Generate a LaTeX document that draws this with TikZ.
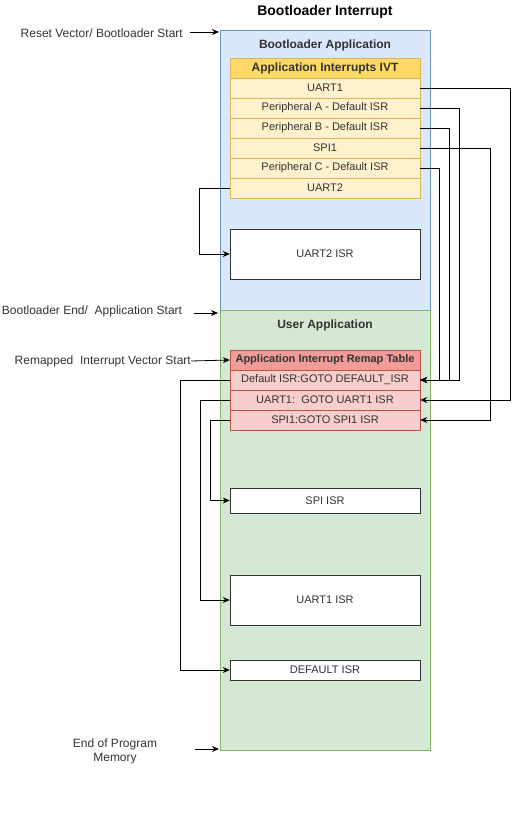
\documentclass[tikz,border=0pt]{standalone}
\usepackage{fontspec}
\setmainfont{Liberation Sans}
\usetikzlibrary{arrows.meta}
\definecolor{bluefill}{HTML}{DAE8FC}
\definecolor{blueline}{HTML}{6C8EBF}
\definecolor{greenfill}{HTML}{D5E8D4}
\definecolor{greenline}{HTML}{82B366}
\definecolor{goldhead}{HTML}{FFD966}
\definecolor{goldrow}{HTML}{FFF2CC}
\definecolor{goldline}{HTML}{D6B656}
\definecolor{redhead}{HTML}{F19C99}
\definecolor{redrow}{HTML}{F8CECC}
\definecolor{redline}{HTML}{B85450}
\definecolor{txt}{HTML}{333333}
\tikzset{
  region/.style={draw, rectangle, minimum width=210pt, inner sep=0pt},
  cell/.style={draw, rectangle, minimum width=190pt, minimum height=20pt, inner sep=0pt, text=txt, font=\fontsize{11}{13}\selectfont},
  ivthead/.style={cell, fill=goldhead, draw=goldline, font=\fontsize{12}{14}\selectfont\bfseries},
  ivtrow/.style={cell, fill=goldrow, draw=goldline},
  remhead/.style={cell, fill=redhead, draw=redline, font=\fontsize{11}{13}\selectfont\bfseries},
  remrow/.style={cell, fill=redrow, draw=redline},
  isr/.style={cell, fill=white, draw=black!80},
  lbl/.style={inner sep=0pt, text=txt, font=\fontsize{12}{14}\selectfont},
  arr/.style={draw=black, line width=0.8pt, -{Stealth[length=7pt,width=6pt]}},
}
\begin{document}
\begin{tikzpicture}[x=1pt,y=-1pt]
\useasboundingbox (0,0) rectangle (519,835);
% regions
\node[region, fill=bluefill, draw=blueline, minimum height=280pt] (blue) at (325,170) {};
\node[region, fill=greenfill, draw=greenline, minimum height=440pt] (green) at (325,530) {};
\node[lbl, font=\fontsize{14}{16}\selectfont\bfseries, text=black] (title) at (325,12) {Bootloader Interrupt};
\node[lbl, font=\fontsize{12}{14}\selectfont\bfseries] (bapp) at (325,45) {Bootloader Application};
\node[lbl, font=\fontsize{12}{14}\selectfont\bfseries] (uapp) at (325,325) {User Application};
% IVT
\node[ivthead] (ivt) at (325,68) {Application Interrupts IVT};
\node[ivtrow] (ua1) at (325,88) {UART1};
\node[ivtrow] (pa) at (325,108) {Peripheral A - Default ISR};
\node[ivtrow] (pb) at (325,128) {Peripheral B - Default ISR};
\node[ivtrow] (spi) at (325,148) {SPI1};
\node[ivtrow] (pc) at (325,168) {Peripheral C - Default ISR};
\node[ivtrow] (ua2) at (325,188) {UART2};
\node[isr, minimum height=50pt] (u2isr) at (325,254) {UART2 ISR};
% remap table
\node[remhead] (rh) at (325,360) {Application Interrupt Remap Table};
\node[remrow] (rd) at (325,380) {Default ISR:GOTO DEFAULT\_ISR};
\node[remrow] (ru) at (325,400) {UART1:\ \ GOTO UART1 ISR};
\node[remrow] (rs) at (325,420) {SPI1:GOTO SPI1 ISR};
% ISRs
\node[isr, minimum height=25pt] (spiisr) at (325,500.5) {SPI ISR};
\node[isr, minimum height=50pt] (u1isr) at (325,600) {UART1 ISR};
\node[isr, minimum height=20pt] (disr) at (325,670) {DEFAULT ISR};
% left labels
\node[lbl, anchor=east] (l1) at (183,33) {Reset Vector/ Bootloader Start};
\coordinate (l1s) at (190,32);
\coordinate (l1e) at (219,32);
\node[lbl] (l2) at (92,311) {Bootloader End/\ \ Application Start};
\coordinate (l2s) at (194,313);
\coordinate (l2e) at (218,313);
\node[lbl, anchor=east] (l3) at (191,361) {Remapped\ \ Interrupt Vector Start};
\node[lbl, align=center, font=\fontsize{12}{14}\selectfont] (l4) at (115,751) {End of Program\\Memory};
\coordinate (l4s) at (195,749);
\coordinate (l4e) at (219,749);
\draw[arr] (l1s) -- (l1e);
\draw[arr] (l2s) -- (l2e);
\draw[arr] (l3.east) -- (rh.west);
\draw[arr] (l4s) -- (l4e);
% right connectors
\draw[arr] (ua1.east) -- ++(90,0) |- (ru.east);
\draw[arr] (pa.east) -- ++(39,0) |- (rd.east);
\draw[arr] (pb.east) -- ++(29,0) |- (rd.east);
\draw[arr] (spi.east) -- ++(70,0) |- (rs.east);
\draw[arr] (pc.east) -- ++(19,0) |- (rd.east);
% left connectors
\draw[arr] (ua2.west) -- ++(-30,0) |- (u2isr.west);
\draw[arr] (rd.west) -- ++(-49,0) |- (disr.west);
\draw[arr] (ru.west) -- ++(-29,0) |- (u1isr.west);
\draw[arr] (rs.west) -- ++(-19,0) |- (spiisr.west);
\end{tikzpicture}
\end{document}
